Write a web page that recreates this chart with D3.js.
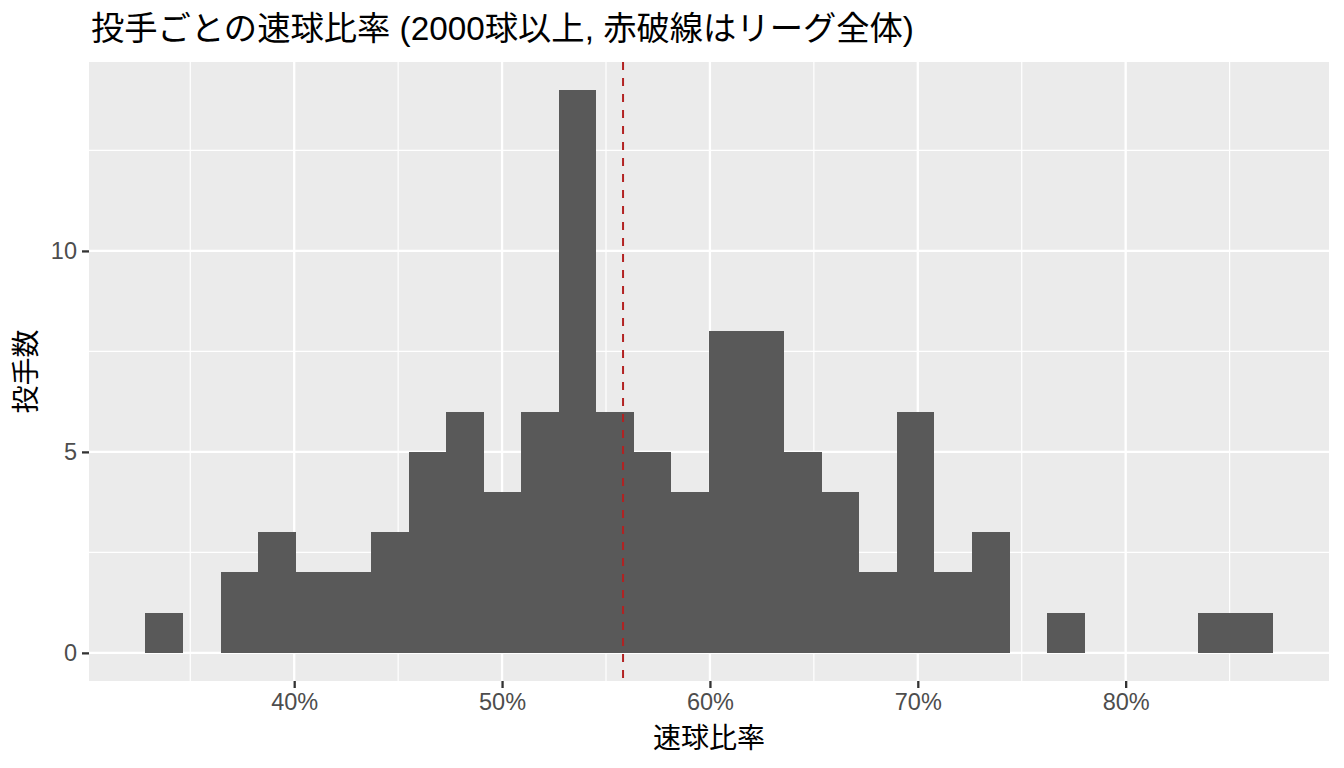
<!DOCTYPE html>
<html>
<head>
<meta charset="utf-8">
<script src="https://cdn.jsdelivr.net/npm/d3@7"></script>
<style>
  body { margin: 0; background: #fff; }
  text { font-family: "Liberation Sans", Arial, "Noto Sans CJK JP", sans-serif; }
</style>
</head>
<body>
<div id="chart"></div>
<script>
// bin edges (fastball share), 30 bins
const binEdges = [0.3284, 0.3465, 0.3646, 0.3826, 0.4007, 0.4188, 0.4369, 0.4550,
  0.4730, 0.4911, 0.5092, 0.5273, 0.5453, 0.5634, 0.5815, 0.5996, 0.6177, 0.6358,
  0.6538, 0.6719, 0.6900, 0.7080, 0.7261, 0.7442, 0.7623, 0.7804, 0.7984, 0.8165,
  0.8346, 0.8527, 0.8707];
const counts = [1, 0, 2, 3, 2, 2, 3, 5, 6, 4, 6, 14, 6, 5, 4, 8, 8, 5, 4, 2, 6, 2, 3, 0, 1, 0, 0, 0, 1, 1];
const leagueRate = 0.5582;
const xTicks = [0.4, 0.5, 0.6, 0.7, 0.8];
const xMinor = [0.35, 0.45, 0.55, 0.65, 0.75, 0.85];
const yTicks = [0, 5, 10];
const yMinor = [2.5, 7.5, 12.5];

const W = 1344, H = 768;
const panel = { left: 89, right: 1329, top: 62, bottom: 681 };

const bins = counts.map((c, i) => ({ x0: binEdges[i], x1: binEdges[i + 1], n: c }));

const xExt = d3.extent(binEdges), xPad = (xExt[1] - xExt[0]) * 0.05;
const x = d3.scaleLinear().domain([xExt[0] - xPad, xExt[1] + xPad]).range([panel.left, panel.right]);
const yMax = d3.max(counts), yPad = yMax * 0.05;
const y = d3.scaleLinear().domain([-yPad, yMax + yPad]).range([panel.bottom, panel.top]);

const svg = d3.select("#chart").append("svg")
    .attr("width", W).attr("height", H);

svg.append("rect")
    .attr("x", panel.left).attr("y", panel.top)
    .attr("width", panel.right - panel.left).attr("height", panel.bottom - panel.top)
    .attr("fill", "#EBEBEB");

// grid
const grid = svg.append("g");
grid.selectAll(".xm").data(xMinor).enter().append("line")
    .attr("x1", d => x(d)).attr("x2", d => x(d))
    .attr("y1", panel.top).attr("y2", panel.bottom)
    .attr("stroke", "#fff").attr("stroke-width", 1.2);
grid.selectAll(".ym").data(yMinor).enter().append("line")
    .attr("x1", panel.left).attr("x2", panel.right)
    .attr("y1", d => y(d)).attr("y2", d => y(d))
    .attr("stroke", "#fff").attr("stroke-width", 1.2);
grid.selectAll(".xM").data(xTicks).enter().append("line")
    .attr("x1", d => x(d)).attr("x2", d => x(d))
    .attr("y1", panel.top).attr("y2", panel.bottom)
    .attr("stroke", "#fff").attr("stroke-width", 2.3);
grid.selectAll(".yM").data(yTicks).enter().append("line")
    .attr("x1", panel.left).attr("x2", panel.right)
    .attr("y1", d => y(d)).attr("y2", d => y(d))
    .attr("stroke", "#fff").attr("stroke-width", 2.3);

// bars
svg.append("g")
    .attr("shape-rendering", "crispEdges")
    .selectAll("rect")
    .data(bins.filter(b => b.n > 0))
    .enter().append("rect")
    .attr("x", d => x(d.x0))
    .attr("width", d => x(d.x1) - x(d.x0))
    .attr("y", d => y(d.n))
    .attr("height", d => y(0) - y(d.n))
    .attr("fill", "#595959");

// league average line
svg.append("line")
    .attr("x1", x(leagueRate)).attr("x2", x(leagueRate))
    .attr("y1", panel.top).attr("y2", panel.bottom)
    .attr("stroke", "#B22222").attr("stroke-width", 2)
    .attr("stroke-dasharray", "8,8");

// axes
const xAxis = svg.append("g")
    .attr("transform", `translate(0,${panel.bottom})`)
    .call(d3.axisBottom(x).tickValues(xTicks).tickFormat(d3.format(".0%")).tickSize(7).tickPadding(5));
const yAxis = svg.append("g")
    .attr("transform", `translate(${panel.left},0)`)
    .call(d3.axisLeft(y).tickValues(yTicks).tickSize(7).tickPadding(5));
[xAxis, yAxis].forEach(a => {
    a.select(".domain").remove();
    a.selectAll(".tick line").attr("stroke", "#333333").attr("stroke-width", 2.3);
    a.selectAll(".tick text").attr("fill", "#4D4D4D").style("font-size", "23.5px");
});

// titles
svg.append("text")
    .attr("x", 91).attr("y", 40)
    .attr("fill", "#000")
    .style("font-size", "33.3px")
    .text("投手ごとの速球比率 (2000球以上, 赤破線はリーグ全体)");

svg.append("text")
    .attr("x", (panel.left + panel.right) / 2).attr("y", 748)
    .attr("text-anchor", "middle")
    .style("font-size", "28px")
    .text("速球比率");

svg.append("text")
    .attr("transform", `translate(36,${(panel.top + panel.bottom) / 2}) rotate(-90)`)
    .attr("text-anchor", "middle")
    .style("font-size", "28px")
    .text("投手数");
</script>
</body>
</html>
